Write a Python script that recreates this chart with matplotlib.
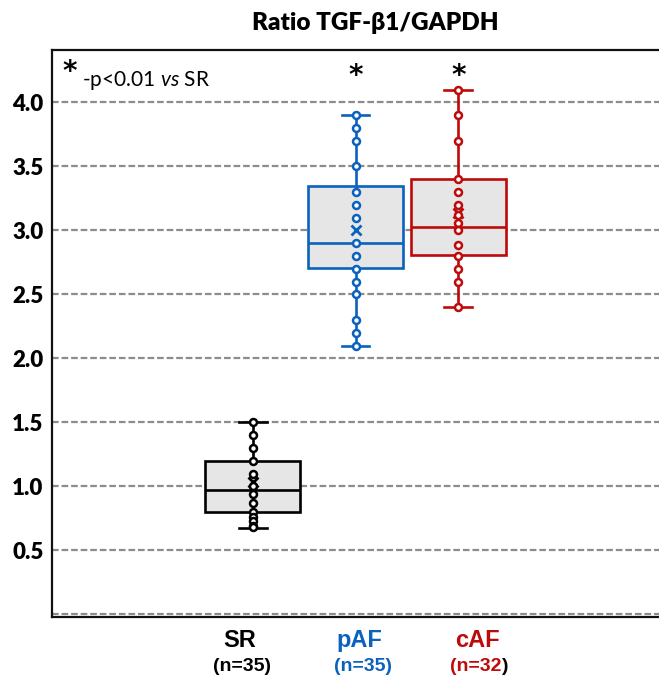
import matplotlib
matplotlib.use('Agg')
import matplotlib.pyplot as plt
import matplotlib.transforms as mtransforms

# data
groups = ['SR', 'pAF', 'cAF']
n_labels = ['(n=35)', '(n=35)', '(n=32)']
colors = ['#000000', '#0A62BE', '#BE0A0A']

sr_points = [1.50, 1.40, 1.30, 1.20, 1.10, 1.00, 0.94, 0.87, 0.80, 0.76, 0.73, 0.69, 0.68]
paf_points = [3.90, 3.80, 3.70, 3.50, 3.30, 3.20, 3.10, 2.90, 2.80, 2.70, 2.60, 2.50, 2.30, 2.20, 2.10]
caf_points = [4.10, 3.90, 3.70, 3.40, 3.30, 3.20, 3.12, 3.06, 3.00, 2.89, 2.80, 2.70, 2.60, 2.40]

q1 = [0.80, 2.71, 2.81]
q3 = [1.20, 3.35, 3.40]
medians = [0.973, 2.90, 3.03]
means = [1.035, 3.00, 3.14]
whisker_low = [0.676, 2.10, 2.40]
whisker_high = [1.50, 3.90, 4.10]
significant = [False, True, True]

yticks = [0.0, 0.5, 1.0, 1.5, 2.0, 2.5, 3.0, 3.5, 4.0]
ytick_labels = ['', '0.5', '1.0', '1.5', '2.0', '2.5', '3.0', '3.5', '4.0']

plt.rcParams['mathtext.fontset'] = 'custom'
plt.rcParams['mathtext.rm'] = 'Lato'
plt.rcParams['mathtext.it'] = 'Lato:italic'

fig = plt.figure(figsize=(6.59, 6.82), dpi=100)
ax = fig.add_axes([52/659, 1-617/682, 607/659, 567/682])

points = [sr_points, paf_points, caf_points]
positions = [1, 2, 3]

for i, c in enumerate(colors):
    stats = [dict(med=medians[i], q1=q1[i], q3=q3[i], whislo=whisker_low[i],
                  whishi=whisker_high[i], mean=means[i], fliers=[])]
    ax.bxp(stats, positions=[positions[i]], widths=0.92, capwidths=0.27,
           patch_artist=True, showmeans=True, showfliers=False,
           boxprops=dict(facecolor='#e6e6e6', edgecolor=c, linewidth=1.9),
           whiskerprops=dict(color=c, linewidth=1.9),
           capprops=dict(color=c, linewidth=1.9),
           medianprops=dict(color=c, linewidth=1.9),
           meanprops=dict(marker='x', markeredgecolor=c, markersize=7, markeredgewidth=2),
           manage_ticks=False, zorder=3)
    ax.plot([positions[i]]*len(points[i]), points[i], 'o', mfc='white', mec=c,
            ms=5, mew=1.8, zorder=4)
    if significant[i]:
        ax.text(positions[i], 4.21, '*', ha='center', va='center', fontsize=20,
                fontweight='bold', family='DejaVu Sans')

ax.set_xlim(-0.95, 4.95)
ax.set_ylim(-0.02, 4.41)
ax.set_yticks(yticks)
ax.set_yticklabels(ytick_labels, fontsize=16, fontweight='heavy', family='Lato')
ax.tick_params(axis='y', length=0, pad=6)
ax.set_xticks([])
ax.yaxis.grid(True, color='#8c8c8c', linewidth=1.6, linestyle=(0, (3.0, 1.3)))
ax.set_axisbelow(True)

ax.spines['right'].set_visible(False)
for s in ['left', 'top', 'bottom']:
    ax.spines[s].set_linewidth(1.6)
    ax.spines[s].set_color('#111111')

# note about significance
ax.text(0.017, 0.962, '*', transform=ax.transAxes, ha='left', va='center',
        fontsize=20, fontweight='bold', family='DejaVu Sans')
ax.text(0.05, 0.937, r'-p<0.01 $\mathit{vs}$ SR', transform=ax.transAxes,
        ha='left', va='baseline', fontsize=15, family='Lato')

# category labels below axis
trans = mtransforms.blended_transform_factory(ax.transData, ax.transAxes)
label_x = [0.9, 2.07, 3.22]
for i, c in enumerate(colors):
    ax.text(label_x[i] - 0.03, -0.041, groups[i], transform=trans, ha='center', va='center',
            fontsize=17, fontweight='bold', color=c, family='Liberation Sans')
    if i < 2:
        ax.text(label_x[i], -0.087, n_labels[i], transform=trans, ha='center', va='center',
                fontsize=14, fontweight='bold', color=c, family='Liberation Sans')
    else:
        # closing bracket is black in the original
        t = ax.text(label_x[i] + 0.2, -0.087, n_labels[i][:-1], transform=trans, ha='right',
                    va='center', fontsize=14, fontweight='bold', color=c, family='Liberation Sans')
        ax.annotate(')', xy=(1, 0.5), xycoords=t, ha='left', va='center',
                    fontsize=14, fontweight='bold', color='black', family='Liberation Sans')

fig.text(0.569, 0.967, 'Ratio TGF-β1/GAPDH', ha='center', va='center', fontsize=17.5,
         fontweight='heavy', family=['Lato', 'DejaVu Sans'])

fig.savefig('out.png', dpi=100)
